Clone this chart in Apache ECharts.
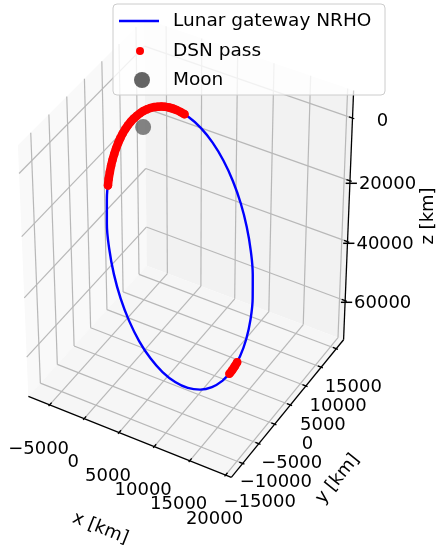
<!DOCTYPE html>
<html>
<head>
<meta charset="utf-8">
<script src="https://cdn.jsdelivr.net/npm/echarts@6/dist/echarts.min.js"></script>
<style>
  html, body { margin: 0; padding: 0; background: #fff; }
  #chart { width: 437px; height: 545px; }
</style>
</head>
<body>
<div id="chart"></div>
<script>
// axis limits and ticks (km)
const xLim = [-8100, 20800];
const yLim = [-18500, 17450];
const zLim = [-73560, 8630];
const xTicks = [-5000, 0, 5000, 10000, 15000, 20000];
const yTicks = [-15000, -10000, -5000, 0, 5000, 10000, 15000];
const zTicks = [-60000, -40000, -20000, 0];

// Lunar gateway NRHO, one revolution (km)
const orbitX = [12310, 12520, 12520, 12320, 11930, 11350, 10600, 9710, 8700, 7610, 6460, 5290, 4140, 3040, 2030, 1130, 380, -210, -620, -820, -830, -630, -240, 350, 1090, 1980, 2990, 4090, 5240, 6400, 7560, 8650, 9670, 10560, 11320, 11910, 12310];
const orbitY = [-2530, -20, 2450, 4810, 6990, 8910, 10530, 11800, 12670, 13120, 13130, 12710, 11860, 10620, 9020, 7110, 4940, 2590, 130, -2380, -4850, -7210, -9390, -11320, -12940, -14200, -15070, -15520, -15530, -15110, -14270, -13020, -11420, -9510, -7350, -5000, -2530];
const orbitZ = [-69800, -69280, -67660, -65000, -61360, -56870, -51660, -45880, -39720, -33360, -27000, -20820, -15010, -9760, -5220, -1530, 1210, 2900, 3490, 2970, 1350, -1320, -4950, -9440, -14650, -20430, -26590, -32950, -39310, -45490, -51300, -56550, -61090, -64790, -67520, -69210, -69800];

// DSN pass samples (km)
const pass1X = [1750, 1470, 1210, 970, 730, 510, 310, 120, -60, -210, -350, -480, -580, -670, -740, -800, -830, -850, -850, -830, -790, -730, -660, -570, -460, -330, -190, -20];
const pass1Y = [8480, 7910, 7310, 6690, 6050, 5390, 4720, 4020, 3310, 2590, 1860, 1120, 380, -380, -1130, -1880, -2630, -3380, -4120, -4850, -5570, -6290, -6980, -7660, -8330, -8970, -9600, -10190];
const pass1Z = [-4020, -2890, -1850, -900, -30, 740, 1430, 2010, 2510, 2900, 3190, 3390, 3480, 3480, 3370, 3160, 2860, 2450, 1950, 1350, 660, -130, -1000, -1970, -3020, -4150, -5360, -6650];
const pass2X = [12480, 12520, 12540, 12550];
const pass2Y = [-770, -20, 730, 1470];
const pass2Z = [-69550, -69280, -68910, -68440];

const moonPos = [0, 0, 0];

// view (matplotlib-like perspective)
const ELEV = 40, AZIM = -60, DIST = 13;
const ASPECT = [1, 1, 1.37];
const CX = 187.5, CY = 246.7, SCALE = 3330; // screen centre, px per projected unit
const W = 437, H = 545;

const deg = Math.PI / 180;
const dot = (a, b) => a[0] * b[0] + a[1] * b[1] + a[2] * b[2];
const cross = (a, b) => [a[1] * b[2] - a[2] * b[1], a[2] * b[0] - a[0] * b[2], a[0] * b[1] - a[1] * b[0]];
const norm = (a) => { const n = Math.hypot(a[0], a[1], a[2]); return a.map((c) => c / n); };

const aspectNorm = Math.hypot(...ASPECT);
const box = ASPECT.map((a) => a * 1.8294640721620434 / aspectNorm);
const wv = [Math.cos(ELEV * deg) * Math.cos(AZIM * deg), Math.cos(ELEV * deg) * Math.sin(AZIM * deg), Math.sin(ELEV * deg)];
const uv = norm(cross([0, 0, 1], wv));
const vv = cross(wv, uv);

const project = (x, y, z) => {
  const q = [
    (x - xLim[0]) / (xLim[1] - xLim[0]) * box[0] - box[0] / 2,
    (y - yLim[0]) / (yLim[1] - yLim[0]) * box[1] - box[1] / 2,
    (z - zLim[0]) / (zLim[1] - zLim[0]) * box[2] - box[2] / 2,
  ];
  const d = DIST - dot(wv, q);
  return [dot(uv, q) / d, dot(vv, q) / d];
};

const [x0, x1] = xLim;
const [y0, y1] = yLim;
const [z0, z1] = zLim;

// back panes
const panes = [
  { fill: '#f9f9f9', corners: [[x0, y0, z0], [x0, y1, z0], [x0, y1, z1], [x0, y0, z1]] },
  { fill: '#f2f2f2', corners: [[x0, y1, z0], [x1, y1, z0], [x1, y1, z1], [x0, y1, z1]] },
  { fill: '#f6f6f6', corners: [[x0, y0, z0], [x1, y0, z0], [x1, y1, z0], [x0, y1, z0]] },
];

const seg = (a, b) => ({ coords: [project(...a), project(...b)] });

const gridSegs = [];
xTicks.forEach((t) => {
  gridSegs.push(seg([t, y1, z0], [t, y1, z1]));
  gridSegs.push(seg([t, y0, z0], [t, y1, z0]));
});
yTicks.forEach((t) => {
  gridSegs.push(seg([x0, t, z0], [x0, t, z1]));
  gridSegs.push(seg([x0, t, z0], [x1, t, z0]));
});
zTicks.forEach((t) => {
  gridSegs.push(seg([x0, y0, t], [x0, y1, t]));
  gridSegs.push(seg([x0, y1, t], [x1, y1, t]));
});

// axis lines and tick marks
const dxIn = (x1 - x0) / 60, dxOut = (x1 - x0) / 120;
const dyIn = (y1 - y0) / 60, dyOut = (y1 - y0) / 120;
const axisSegs = [
  seg([x0, y0, z0], [x1, y0, z0]),
  seg([x1, y0, z0], [x1, y1, z0]),
  seg([x1, y1, z0], [x1, y1, z1]),
];
xTicks.forEach((t) => axisSegs.push(seg([t, y0 + dyIn, z0], [t, y0 - dyOut, z0])));
yTicks.forEach((t) => axisSegs.push(seg([x1 - dxIn, t, z0], [x1 + dxOut, t, z0])));
zTicks.forEach((t) => axisSegs.push(seg([x1 - dxIn, y1, t], [x1 + dxOut, y1, t])));

// texts: anchor point (projected) + pixel offset + rotation (deg)
const fmt = (v) => (v < 0 ? '\u2212' + Math.abs(v) : String(v));
const xm = (x0 + x1) / 2, ym = (y0 + y1) / 2, zm = (z0 + z1) / 2;
const texts = [
  ...xTicks.map((t) => ({ text: fmt(t), pos: project(t, y0, z0), dx: -11, dy: 44, rot: 0 })),
  ...yTicks.map((t) => ({ text: fmt(t), pos: project(x1, t, z0), dx: 17, dy: 39, rot: 0 })),
  ...zTicks.map((t) => ({ text: fmt(t), pos: project(x1, y1, t), dx: 30, dy: 3, rot: 0 })),
  { text: 'x [km]', pos: project(xm, y0, z0), dx: -28, dy: 92, rot: -21.8 },
  { text: 'y [km]', pos: project(x1, ym, z0), dx: 49, dy: 72, rot: 51 },
  { text: 'z [km]', pos: project(x1, y1, zm), dx: 80, dy: -3, rot: 90 },
];

const orbitPts = orbitX.map((x, i) => project(x, orbitY[i], orbitZ[i]));
const pass1Pts = pass1X.map((x, i) => project(x, pass1Y[i], pass1Z[i]));
const pass2Pts = pass2X.map((x, i) => project(x, pass2Y[i], pass2Z[i]));

const FONT = 'DejaVu Sans';
const passBand = (data) => ({
  name: 'DSN pass',
  type: 'line',
  data,
  symbol: 'none',
  smooth: 0.4,
  clip: false,
  z: 6,
  lineStyle: { color: '#ff0000', width: 8.5, cap: 'round', join: 'round' },
});

const chart = echarts.init(document.getElementById('chart'));
chart.setOption({
  animation: false,
  backgroundColor: '#fff',
  grid: { left: 0, top: 0, width: W, height: H },
  xAxis: { type: 'value', min: -CX / SCALE, max: (W - CX) / SCALE, show: false },
  yAxis: { type: 'value', min: (CY - H) / SCALE, max: CY / SCALE, show: false },
  series: [
    {
      type: 'custom',
      silent: true,
      z: 1,
      data: panes.map(() => [0, 0]),
      renderItem: (params, api) => ({
        type: 'polygon',
        shape: { points: panes[params.dataIndex].corners.map((c) => api.coord(project(...c))) },
        style: { fill: panes[params.dataIndex].fill },
      }),
    },
    {
      type: 'lines',
      coordinateSystem: 'cartesian2d',
      silent: true,
      z: 2,
      data: gridSegs,
      lineStyle: { color: '#b8b8b8', width: 1.2, opacity: 1 },
    },
    {
      type: 'lines',
      coordinateSystem: 'cartesian2d',
      silent: true,
      z: 3,
      data: axisSegs,
      lineStyle: { color: '#000', width: 1.3, opacity: 1 },
    },
    {
      name: 'Lunar gateway NRHO',
      type: 'line',
      data: orbitPts,
      symbol: 'none',
      smooth: 0.4,
      clip: false,
      z: 4,
      lineStyle: { color: '#0000ff', width: 2.4 },
    },
    {
      name: 'Moon',
      type: 'scatter',
      data: [project(...moonPos)],
      symbolSize: 16,
      z: 5,
      itemStyle: { color: '#646464' },
    },
    passBand(pass1Pts),
    passBand(pass2Pts),
    {
      name: 'DSN pass',
      type: 'scatter',
      data: [...pass1Pts, ...pass2Pts],
      symbolSize: 8.5,
      z: 6,
      itemStyle: { color: '#ff0000' },
    },
    {
      type: 'custom',
      silent: true,
      z: 7,
      data: texts.map((t) => t.pos),
      renderItem: (params, api) => {
        const t = texts[params.dataIndex];
        const p = api.coord([api.value(0), api.value(1)]);
        return {
          type: 'text',
          x: p[0] + t.dx,
          y: p[1] + t.dy,
          rotation: t.rot * deg,
          style: { text: t.text, fontFamily: FONT, fontSize: 18, fill: '#000', align: 'center', verticalAlign: 'middle' },
        };
      },
    },
  ],
  graphic: [
    { type: 'rect', z: 100, shape: { x: 113, y: 4, width: 272, height: 91, r: 4 }, style: { fill: 'rgba(255,255,255,0.8)', stroke: '#cccccc', lineWidth: 1 } },
    { type: 'line', z: 101, shape: { x1: 119, y1: 21, x2: 159, y2: 21 }, style: { stroke: '#0000ff', lineWidth: 2.4 } },
    { type: 'circle', z: 101, shape: { cx: 140, cy: 51, r: 4 }, style: { fill: '#ff0000' } },
    { type: 'circle', z: 101, shape: { cx: 142, cy: 80, r: 8 }, style: { fill: '#646464' } },
    { type: 'text', z: 101, x: 173, y: 21, style: { text: 'Lunar gateway NRHO', fontFamily: FONT, fontSize: 18.5, fill: '#000', verticalAlign: 'middle' } },
    { type: 'text', z: 101, x: 173, y: 51, style: { text: 'DSN pass', fontFamily: FONT, fontSize: 18.5, fill: '#000', verticalAlign: 'middle' } },
    { type: 'text', z: 101, x: 173, y: 80, style: { text: 'Moon', fontFamily: FONT, fontSize: 18.5, fill: '#000', verticalAlign: 'middle' } },
  ],
});
</script>
</body>
</html>
